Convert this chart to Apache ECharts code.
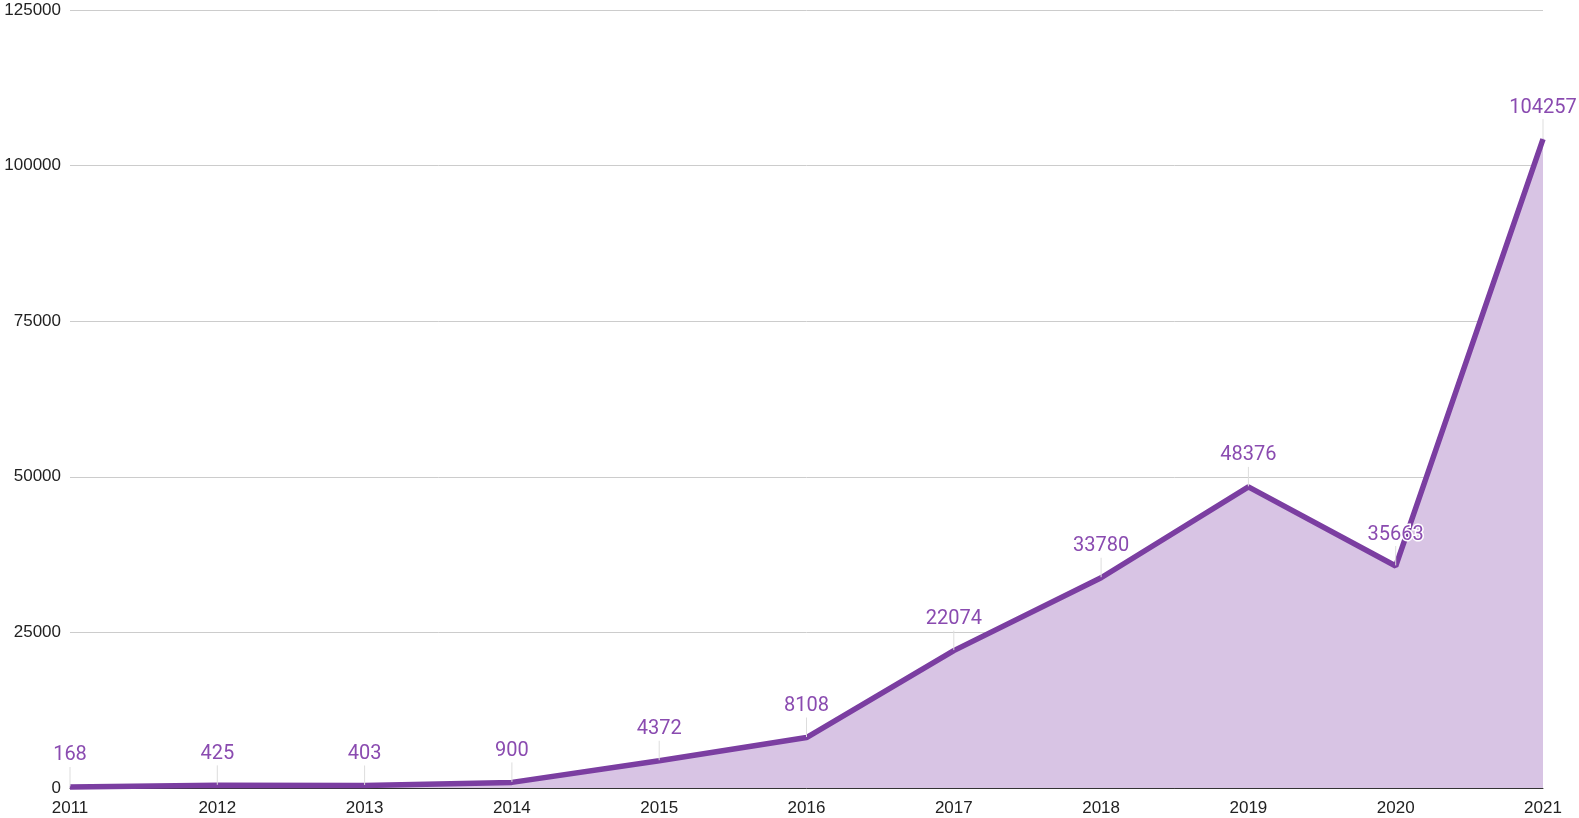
<!DOCTYPE html>
<html><head><meta charset="utf-8">
<script src="https://cdn.jsdelivr.net/npm/echarts@6/dist/echarts.min.js"></script>
<style>html,body{margin:0;padding:0;background:#fff}#c{width:1579px;height:818px}</style>
</head><body><div id="c"></div>
<script>
const years = ['2011','2012','2013','2014','2015','2016','2017','2018','2019','2020','2021'];
const values = [168,425,403,900,4372,8108,22074,33780,48376,35663,104257];
const yTicks = [0,25000,50000,75000,100000,125000];

const chart = echarts.init(document.getElementById('c'));
chart.setOption({
  animation:false,
  grid:{left:70,right:36,top:10,bottom:30,containLabel:false},
  xAxis:{type:'category',data:years,boundaryGap:false,
    axisLine:{show:true,lineStyle:{color:'#333',width:1}},
    axisTick:{show:false},
    axisLabel:{color:'#222',fontSize:17,fontFamily:'Liberation Sans, Arial',margin:12,
      showMinLabel:true, showMaxLabel:true},
    splitLine:{show:false}},
  yAxis:{type:'value',min:yTicks[0],max:yTicks[yTicks.length-1],interval:25000,
    axisLine:{show:false},axisTick:{show:false},
    axisLabel:{color:'#222',fontSize:17,fontFamily:'Liberation Sans, Arial',margin:9,
      formatter:v=>String(v)},
    splitLine:{lineStyle:{color:'#cccccc',width:1}}},
  series:[{
    type:'line',data:values,
    symbol:'circle',symbolSize:1,showSymbol:true,
    itemStyle:{color:'#7b3ea1'},
    lineStyle:{color:'#7b3ea1',width:5.5},
    areaStyle:{color:'#d8c4e4',opacity:1},
    label:{show:true,position:'top',distance:4,color:'#8a4bb0',fontSize:20,
      fontFamily:'Roboto',textBorderColor:'#fff',textBorderWidth:3},
    labelLayout:{dy:-17},
    labelLine:{show:true,lineStyle:{color:'#dddddd',width:1}}
  }]
});
</script></body></html>
